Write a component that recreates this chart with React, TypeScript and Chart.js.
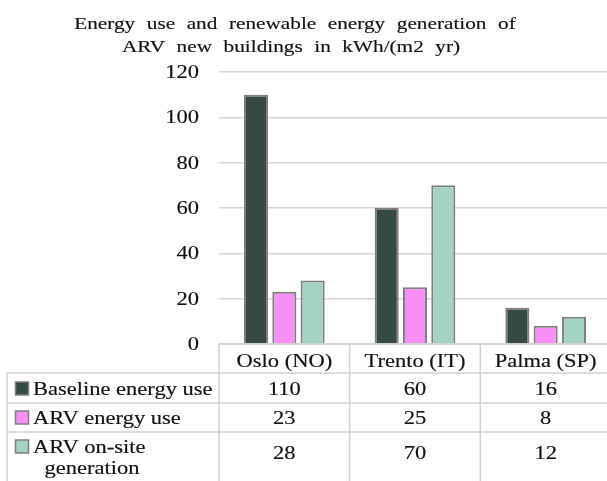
import React, { useEffect, useRef } from "react";
import { Chart, registerables } from "chart.js";

Chart.register(...registerables);

// ---- data ----
const categories = ["Oslo (NO)", "Trento (IT)", "Palma (SP)"];
const seriesNames = ["Baseline energy use", "ARV energy use", "ARV on-site generation"];
const rowLabelLines = [["Baseline energy use"], ["ARV energy use"], ["ARV on-site", "generation"]];
const baselineUse = [110, 60, 16];
const arvUse = [23, 25, 8];
const arvGeneration = [28, 70, 12];
const yMin = 0;
const yMax = 120;
const yStep = 20;
const titleLines = ["Energy use and renewable energy generation of", "ARV new buildings in kWh/(m2 yr)"];
const seriesColors = ["#354b42", "#f78ff7", "#a3d3c3"];

const SERIF = '"Liberation Serif", "Times New Roman", Times, serif';
const SX = 1.25;

function drawStretched(
  ctx: CanvasRenderingContext2D,
  text: string,
  x: number,
  y: number,
  align: "left" | "center" | "right",
  size: number,
  wordGap = 0
) {
  ctx.save();
  ctx.font = `${size}px ${SERIF}`;
  const words = text.split(" ");
  const space = ctx.measureText(" ").width + wordGap;
  const widths = words.map((w) => ctx.measureText(w).width);
  const total = (widths.reduce((a, b) => a + b, 0) + space * (words.length - 1)) * SX;
  const left = align === "center" ? x - total / 2 : align === "right" ? x - total : x;
  ctx.translate(left, y);
  ctx.scale(SX, 1);
  ctx.textAlign = "left";
  ctx.textBaseline = "alphabetic";
  ctx.fillStyle = "#111";
  ctx.strokeStyle = "#111";
  ctx.lineWidth = 0.15;
  ctx.lineJoin = "round";
  let cx = 0;
  words.forEach((w, i) => {
    ctx.fillText(w, cx, 0);
    ctx.strokeText(w, cx, 0);
    cx += widths[i] + space;
  });
  ctx.restore();
}

const tablePlugin = {
  id: "dataTable",
  afterDraw(chart: any) {
    const { ctx, chartArea, scales } = chart;
    const xs = scales.x;
    const ys = scales.y;
    const left = chartArea.left;
    const right = chartArea.right;
    const top = chartArea.bottom;
    const bottom = chart.height;
    const labelLeft = 7;
    const rows = [top, top + 29, top + 59, top + 88, bottom];
    const cw = (right - left) / categories.length;

    // title
    drawStretched(ctx, titleLines[0], 295, 29, "center", 17, 5);
    drawStretched(ctx, titleLines[1], 291, 52, "center", 17, 5);

    // y tick labels from the scale
    ys.ticks.forEach((t: any) => {
      const py = ys.getPixelForValue(t.value);
      drawStretched(ctx, String(t.value), 199, py + 6, "right", 18);
    });

    // table grid
    ctx.save();
    ctx.strokeStyle = "#d0d0d0";
    ctx.lineWidth = 1.5;
    const hline = (y: number, x1: number, x2: number) => {
      ctx.beginPath();
      ctx.moveTo(x1, y);
      ctx.lineTo(x2, y);
      ctx.stroke();
    };
    const vline = (x: number, y1: number, y2: number) => {
      ctx.beginPath();
      ctx.moveTo(x, y1);
      ctx.lineTo(x, y2);
      ctx.stroke();
    };
    hline(top, left, right);
    for (let r = 1; r <= 3; r++) hline(rows[r], labelLeft, right);
    vline(labelLeft, rows[1], bottom);
    for (let i = 0; i <= categories.length; i++) vline(left + i * cw, top, bottom);
    ctx.restore();

    // header
    categories.forEach((c, i) => {
      const cx = xs.getPixelForValue(i);
      drawStretched(ctx, c, cx, top + 23, "center", 18);
    });

    const values = [baselineUse, arvUse, arvGeneration];
    const valueBase = [rows[1] + 22, rows[2] + 21, rows[3] + 27];
    const labelBase = [rows[1] + 22, rows[2] + 21, rows[3] + 21];
    values.forEach((vals, r) => {
      vals.forEach((v, i) => {
        drawStretched(ctx, String(v), xs.getPixelForValue(i), valueBase[r], "center", 18);
      });
      // legend key
      ctx.save();
      ctx.fillStyle = seriesColors[r];
      ctx.strokeStyle = "#7f7f7f";
      ctx.lineWidth = 1.5;
      ctx.fillRect(15.5, labelBase[r] - 13, 13, 13);
      ctx.strokeRect(15.5, labelBase[r] - 13, 13, 13);
      ctx.restore();
      const lines = rowLabelLines[r];
      drawStretched(ctx, lines[0], 33, labelBase[r], "left", 18);
      if (lines[1]) drawStretched(ctx, lines[1], 92, labelBase[r] + 21, "center", 18);
    });
  },
};

export default function App() {
  const ref = useRef<HTMLCanvasElement | null>(null);

  useEffect(() => {
    document.body.style.margin = "0";
    document.body.style.overflow = "hidden";
    let chart: Chart | null = null;
    let cancelled = false;
    const build = () => {
      if (cancelled || !ref.current) return;
      chart = new Chart(ref.current, {
        type: "bar",
        data: {
          labels: categories,
          datasets: [baselineUse, arvUse, arvGeneration].map((d, i) => ({
            label: seriesNames[i],
            data: d,
            backgroundColor: seriesColors[i],
            borderColor: "#7f7f7f",
            borderWidth: 2,
            categoryPercentage: 0.65,
            barPercentage: 0.85,
          })),
        },
        options: {
          responsive: false,
          animation: false,
          layout: { padding: { top: 72, right: 1, bottom: 481 - 344, left: 0 } },
          plugins: {
            legend: { display: false },
            title: { display: false },
            tooltip: { enabled: false },
          },
          scales: {
            x: { display: false, offset: true },
            y: {
              min: yMin,
              max: yMax,
              ticks: { stepSize: yStep, display: false },
              grid: { color: "#d6d6d6", lineWidth: 1.5, drawTicks: false },
              border: { display: false },
              afterFit: (s: any) => {
                s.width = 219;
              },
            },
          },
        } as any,
        plugins: [tablePlugin],
      });
    };
    const fonts = (document as any).fonts;
    if (fonts && fonts.load) {
      Promise.all([
        fonts.load('18px "Liberation Serif"', "Energy 0123456789"),
        fonts.load('17px "Liberation Serif"', "Energy"),
      ])
        .catch(() => null)
        .then(build);
    } else {
      build();
    }
    return () => {
      cancelled = true;
      if (chart) chart.destroy();
    };
  }, []);

  return (
    <div style={{ width: 607, height: 481, overflow: "hidden", position: "relative", background: "#fff" }}>
      <canvas ref={ref} width={612} height={481} style={{ display: "block" }} />
    </div>
  );
}
